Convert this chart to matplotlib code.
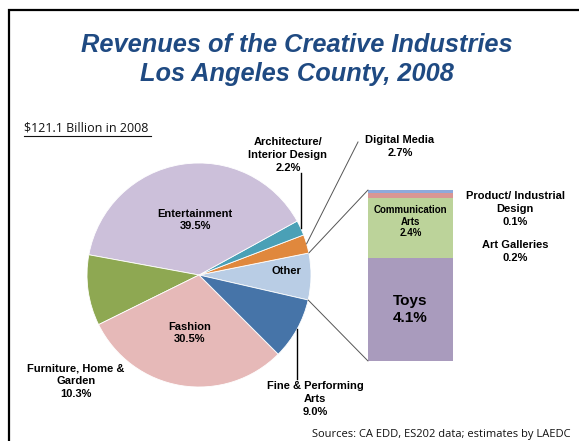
import matplotlib
matplotlib.use("Agg")
import matplotlib.pyplot as plt
import matplotlib.patches as mpatches
from matplotlib.patches import ConnectionPatch
import numpy as np

# ---- data ----
pie_labels = ["Other", "Digital Media", "Architecture/\nInterior Design", "Entertainment",
              "Furniture, Home &\nGarden", "Fashion", "Fine & Performing\nArts"]
pie_values = [6.8, 2.7, 2.2, 39.5, 10.3, 30.5, 9.0]
pie_colors = ["#B9CDE5", "#E0883D", "#4AA0B6", "#CCC0DA", "#8EA852", "#E6B9B8", "#4674A8"]

bar_labels = ["Toys", "Communication\nArts", "Art Galleries", "Product/ Industrial\nDesign"]
bar_values = [4.1, 2.4, 0.2, 0.1]
bar_colors = ["#A99BBD", "#BCD39A", "#D99694", "#8EA9DB"]

W, H = 579, 441
fig = plt.figure(figsize=(W / 100, H / 100), dpi=100)
fig.patch.set_facecolor("white")

def fx(x):
    return x / W

def fy(y):
    return 1 - y / H

FONT = "Liberation Sans"
TITLE_COLOR = "#1F4A82"

# frame
fig.patches.append(mpatches.Rectangle((fx(9), -0.05), 1.2, fy(10) + 0.05, fill=False,
                                      lw=1.6, edgecolor="black", transform=fig.transFigure,
                                      figure=fig))

# title
fig.text(fx(297), fy(45), "Revenues of the Creative Industries", ha="center", va="center",
         fontsize=18.3, fontweight="bold", fontstyle="italic", color=TITLE_COLOR, family=FONT)
fig.text(fx(297), fy(74), "Los Angeles County, 2008", ha="center", va="center",
         fontsize=18.3, fontweight="bold", fontstyle="italic", color=TITLE_COLOR, family=FONT)

# subtitle (underlined)
fig.text(fx(24), fy(128), "$121.1 Billion in 2008", ha="left", va="center",
         fontsize=9, family="Open Sans", color="#111111")
fig.add_artist(plt.Line2D([fx(24), fx(151)], [fy(136), fy(136)], color="#111111", lw=0.8,
                          transform=fig.transFigure))

# ---- pie ----
cx, cy, R = 199, 275, 112
ax = fig.add_axes([fx(cx - R), fy(cy + R), 2 * R / W, 2 * R / H])
wedges, _ = ax.pie(pie_values, colors=pie_colors, startangle=-12.9, counterclock=True,
                   radius=1, wedgeprops=dict(linewidth=0.6, edgecolor="white"))
ax.set_xlim(-1, 1)
ax.set_ylim(-1, 1)
ax.set_aspect("auto")
ax.axis("off")

lab_kw = dict(ha="center", va="center", fontsize=8, fontweight="bold", family=FONT,
              color="black", linespacing=1.32)

def mid(w, r=1.0):
    a = np.deg2rad((w.theta1 + w.theta2) / 2)
    return r * np.cos(a), r * np.sin(a)

# labels inside pie
fig.text(fx(195), fy(220), f"{pie_labels[3]}\n{pie_values[3]:.1f}%", **lab_kw)
fig.text(fx(190), fy(333), f"{pie_labels[5]}\n{pie_values[5]:.1f}%", **lab_kw)
fig.text(fx(286), fy(271), pie_labels[0], **lab_kw)

# outside labels
fig.text(fx(288), fy(155), f"{pie_labels[2]}\n{pie_values[2]:.1f}%", **lab_kw)
fig.text(fx(400), fy(146.5), f"{pie_labels[1]}\n{pie_values[1]:.1f}%", **lab_kw)
fig.text(fx(76), fy(381), f"{pie_labels[4]}\n{pie_values[4]:.1f}%", **lab_kw)
fig.text(fx(315), fy(399), f"{pie_labels[6]}\n{pie_values[6]:.1f}%", **lab_kw)

# leader lines
def to_fig(pt):
    disp = ax.transData.transform(pt)
    return fig.transFigure.inverted().transform(disp)

# Architecture: vertical
p = to_fig(mid(wedges[2]))
fig.add_artist(plt.Line2D([p[0], p[0]], [p[1], fy(173)], color="black", lw=1.0,
                          transform=fig.transFigure))
# Digital media: slanted
p = to_fig(mid(wedges[1]))
fig.add_artist(plt.Line2D([p[0], fx(358)], [p[1], fy(142)], color="#555555", lw=0.7,
                          transform=fig.transFigure))
# Fine & performing: vertical
p = to_fig(mid(wedges[6]))
fig.add_artist(plt.Line2D([p[0], p[0]], [p[1], fy(379)], color="black", lw=1.0,
                          transform=fig.transFigure))

# ---- bar ----
bx0, bx1, by0, by1 = 368, 453, 190, 361
bax = fig.add_axes([fx(bx0), fy(by1), (bx1 - bx0) / W, (by1 - by0) / H])
bottom = 0
for v, c in zip(bar_values, bar_colors):
    bax.bar(0, v, width=1, bottom=bottom, color=c, edgecolor="none")
    bottom += v
bax.set_xlim(-0.5, 0.5)
bax.set_ylim(0, sum(bar_values))
bax.axis("off")

bax.text(0, bar_values[0] / 2, f"{bar_labels[0]}\n{bar_values[0]:.1f}%",
         ha="center", va="center", fontsize=11, fontweight="bold", family=FONT, linespacing=1.2)
comm_kw = dict(lab_kw)
comm_kw.update(fontsize=7, linespacing=1.15)
bax.text(0, bar_values[0] + bar_values[1] * 0.6, f"{bar_labels[1]}\n{bar_values[1]:.1f}%",
         **comm_kw)
fig.text(fx(515), fy(209), f"{bar_labels[3]}\n{bar_values[3]:.1f}%", **lab_kw)
fig.text(fx(515), fy(251.5), f"{bar_labels[2]}\n{bar_values[2]:.1f}%", **lab_kw)

# connection lines between pie "Other" wedge and bar
w = wedges[0]
top_pt = (np.cos(np.deg2rad(w.theta2)), np.sin(np.deg2rad(w.theta2)))
bot_pt = (np.cos(np.deg2rad(w.theta1)), np.sin(np.deg2rad(w.theta1)))
total = sum(bar_values)
for pp, yy in [(top_pt, total), (bot_pt, 0)]:
    con = ConnectionPatch(xyA=(-0.5, yy), coordsA=bax.transData, xyB=pp, coordsB=ax.transData,
                          color="#555555", lw=0.7)
    fig.add_artist(con)

# source
fig.text(fx(571), fy(434), "Sources: CA EDD, ES202 data; estimates by LAEDC", ha="right",
         va="center", fontsize=8, family="Open Sans", color="#111111")

fig.savefig("out.png", dpi=100)
